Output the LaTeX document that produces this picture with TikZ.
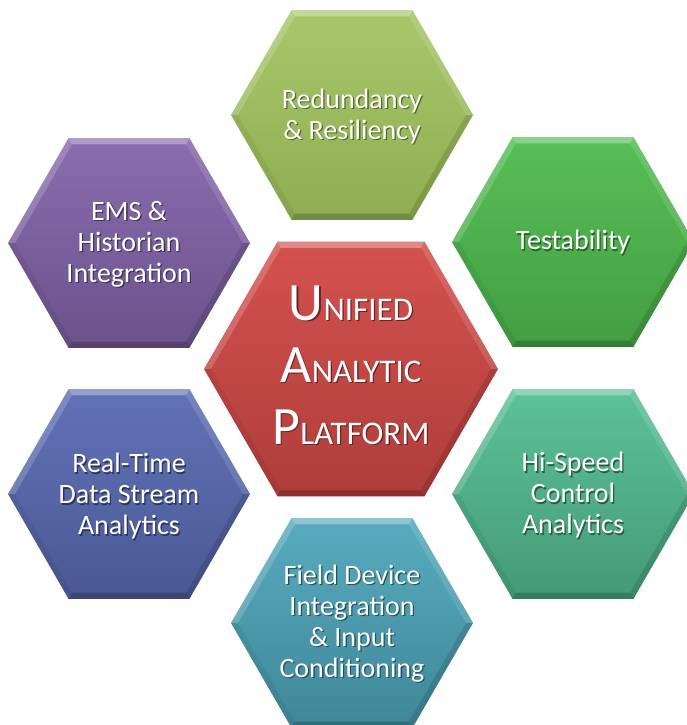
\documentclass[tikz,border=0pt]{standalone}
\usepackage{fontspec}
\setmainfont{Carlito}
\definecolor{oliveT}{HTML}{A8C76A}\definecolor{oliveB}{HTML}{8FAD52}
\definecolor{purpT}{HTML}{8A6DAF}\definecolor{purpB}{HTML}{6A528C}
\definecolor{grnT}{HTML}{58BE56}\definecolor{grnB}{HTML}{429E42}
\definecolor{bluT}{HTML}{6272B6}\definecolor{bluB}{HTML}{4A5894}
\definecolor{tealT}{HTML}{5CC298}\definecolor{tealB}{HTML}{449A76}
\definecolor{cyanT}{HTML}{58ABBE}\definecolor{cyanB}{HTML}{3F8799}
\definecolor{redT}{HTML}{D4524F}\definecolor{redB}{HTML}{AE3D3A}
\tikzset{
  hextext/.style={text=white, align=center, inner sep=0pt, font=\fontsize{28}{31}\selectfont},
  bigtext/.style={text=white, align=center, inner sep=0pt, font=\fontsize{54}{62}\selectfont},
}
% text with a soft drop shadow: #1 shadow colour, #2 text
\newcommand\shd[2]{\makebox[0pt][l]{\hspace{1.3pt}\raisebox{-1.3pt}{\textcolor{#1}{#2}}}#2}
% #1 name, #2 cx, #3 cy, #4 R, #5 top colour, #6 bottom colour
\newcommand\hexbody[6]{%
  \begin{scope}[shift={(#2,#3)}]
    \pgfmathsetmacro\rin{#4-7}
    \shade[top color=#5, bottom color=#6]
      (0:#4)--(60:#4)--(120:#4)--(180:#4)--(240:#4)--(300:#4)--cycle;
    \fill[white, opacity=0.32] (240:#4)--(300:#4)--(300:\rin)--(240:\rin)--cycle;
    \fill[white, opacity=0.12] (300:#4)--(360:#4)--(360:\rin)--(300:\rin)--cycle;
    \fill[white, opacity=0.18] (180:#4)--(240:#4)--(240:\rin)--(180:\rin)--cycle;
    \fill[black, opacity=0.12] (0:#4)--(60:#4)--(60:\rin)--(0:\rin)--cycle;
    \fill[black, opacity=0.06] (120:#4)--(180:#4)--(180:\rin)--(120:\rin)--cycle;
    \fill[black, opacity=0.20] (60:#4)--(120:#4)--(120:\rin)--(60:\rin)--cycle;
  \end{scope}
}
\begin{document}
\begin{tikzpicture}[x=1pt, y=-1pt]
  \useasboundingbox (0,0) rectangle (687,725);
  \hexbody{top}{352}{115}{121}{oliveT}{oliveB}
  \hexbody{ul}{129}{243}{121}{purpT}{purpB}
  \hexbody{ur}{573}{242}{121}{grnT}{grnB}
  \hexbody{ll}{129}{494}{121}{bluT}{bluB}
  \hexbody{lr}{573}{494}{121}{tealT}{tealB}
  \hexbody{bot}{352}{623}{121}{cyanT}{cyanB}
  \hexbody{mid}{351}{369}{147}{redT}{redB}
  \node[hextext] (topt) at (352,117) {\shd{black!40!oliveB}{Redundancy}\\\shd{black!40!oliveB}{\& Resiliency}};
  \node[hextext] (ult) at (129,245) {\shd{black!40!purpB}{EMS \&}\\\shd{black!40!purpB}{Historian}\\\shd{black!40!purpB}{Integration}};
  \node[hextext] (urt) at (573,243) {\shd{black!40!grnB}{Testability}};
  \node[hextext] (llt) at (129,497) {\shd{black!40!bluB}{Real-Time}\\\shd{black!40!bluB}{Data Stream}\\\shd{black!40!bluB}{Analytics}};
  \node[hextext] (lrt) at (573,496) {\shd{black!40!tealB}{Hi-Speed}\\\shd{black!40!tealB}{Control}\\\shd{black!40!tealB}{Analytics}};
  \node[hextext] (bott) at (352,624) {\shd{black!40!cyanB}{Field Device}\\\shd{black!40!cyanB}{Integration}\\\shd{black!40!cyanB}{\& Input}\\\shd{black!40!cyanB}{Conditioning}};
  \node[bigtext] (midt) at (351,366)
    {\shd{black!40!redB}{U{\fontsize{33}{62}\selectfont NIFIED}}\\
     \shd{black!40!redB}{A{\fontsize{33}{62}\selectfont NALYTIC}}\\
     \shd{black!40!redB}{P{\fontsize{33}{62}\selectfont LATFORM}}};
\end{tikzpicture}
\end{document}
